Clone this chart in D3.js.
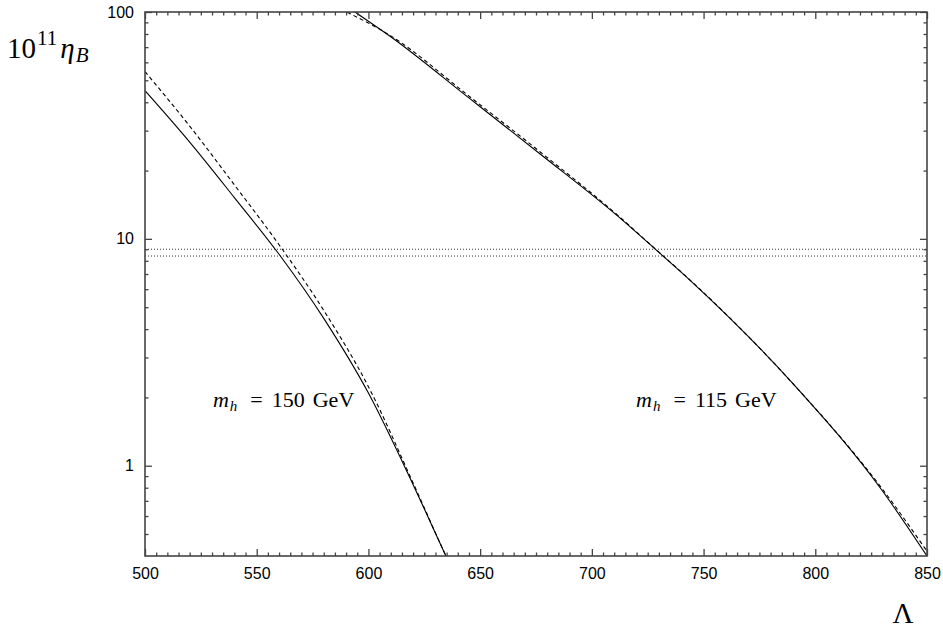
<!DOCTYPE html>
<html>
<head>
<meta charset="utf-8">
<script src="https://cdn.jsdelivr.net/npm/d3@7"></script>
<style>
  body { margin: 0; background: #fff; }
  svg { display: block; }
  .axis .tick text { font-family: "Liberation Sans", Arial, sans-serif; font-size: 16px; fill: #000; }
  .axis .tick line { stroke: #444; stroke-width: 1.3; }
  .serif { font-family: "Liberation Serif", "Times New Roman", serif; fill: #000; }
</style>
</head>
<body>
<svg id="chart" width="943" height="630"></svg>
<script>
// Baryon asymmetry 10^11 eta_B versus cut-off Lambda (GeV)
const lambda150 = [500, 520, 540, 560, 580, 600, 620, 634.7, 640];
const eta150Solid = [45.0, 26.7, 15.2, 8.55, 4.46, 2.09, 0.825, 0.40, 0.31];
const eta150Dashed = [54.6, 31.4, 17.3, 9.42, 4.84, 2.23, 0.84, 0.40, 0.31];

const lambda115Solid = [590, 594, 610, 645, 677, 712, 728, 743, 790, 830, 850];
const eta115Solid = [106.5, 100, 77.8, 41.8, 23.6, 12.5, 9.08, 6.70, 2.30, 0.776, 0.40];
const lambda115Dashed = [587.7, 590.3, 610, 645, 677, 712, 728, 743, 790, 830, 850];
const eta115Dashed = [103, 100, 78.5, 42.6, 24.1, 12.6, 9.1, 6.72, 2.30, 0.79, 0.42];

// observed band
const etaObserved = [8.4, 9.0];

const xTicks = [500, 550, 600, 650, 700, 750, 800, 850];
const yTicks = [1, 10, 100];
const yMinorTicks = [0.5, 0.6, 0.7, 0.8, 0.9, 2, 3, 4, 5, 6, 7, 8, 9, 20, 30, 40, 50, 60, 70, 80, 90];

const curveLabels = [
  { mass: "150", lambda: 530.4 },
  { mass: "115", lambda: 719.8 }
];

const svg = d3.select("#chart");
const plotLeft = 145, plotRight = 927, plotTop = 12, plotBottom = 556;

const x = d3.scaleLinear().domain([500, 850]).range([plotLeft, plotRight]);
const y = d3.scaleLog().domain([0.4, 100]).range([plotBottom, plotTop]);

const xMinorTicks = d3.range(500, 851, 5).filter(v => v % 50 !== 0);

svg.append("defs").append("clipPath").attr("id", "plot-clip")
  .append("rect").attr("x", plotLeft).attr("y", plotTop)
  .attr("width", plotRight - plotLeft).attr("height", plotBottom - plotTop);

// observed range as dotted horizontals
svg.append("g").selectAll("line").data(etaObserved).join("line")
  .attr("x1", plotLeft).attr("x2", plotRight)
  .attr("y1", d => y(d)).attr("y2", d => y(d))
  .attr("stroke", "#333").attr("stroke-width", 1)
  .attr("stroke-dasharray", "1,2");

// curves
const line = d3.line().x(d => x(d[0])).y(d => y(d[1])).curve(d3.curveMonotoneX);
const curves = [
  { pts: d3.zip(lambda150, eta150Solid), dash: null },
  { pts: d3.zip(lambda150, eta150Dashed), dash: "4,3" },
  { pts: d3.zip(lambda115Solid, eta115Solid), dash: null },
  { pts: d3.zip(lambda115Dashed, eta115Dashed), dash: "4,3" }
];
svg.append("g").attr("clip-path", "url(#plot-clip)")
  .selectAll("path").data(curves).join("path")
  .attr("d", d => line(d.pts))
  .attr("fill", "none").attr("stroke", "#000").attr("stroke-width", 1.1)
  .attr("stroke-dasharray", d => d.dash);

// axes with inward ticks
function styleAxis(g) {
  g.select(".domain").remove();
}
svg.append("g").attr("class", "axis").attr("transform", `translate(0,${plotBottom})`)
  .call(d3.axisBottom(x).tickValues(xMinorTicks).tickSize(-3.5).tickFormat("")).call(styleAxis);
svg.append("g").attr("class", "axis").attr("transform", `translate(0,${plotBottom})`)
  .call(d3.axisBottom(x).tickValues(xTicks).tickSize(-7).tickPadding(12).tickFormat(d3.format("d"))).call(styleAxis);
svg.append("g").attr("class", "axis").attr("transform", `translate(0,${plotTop})`)
  .call(d3.axisTop(x).tickValues(xMinorTicks).tickSize(-3.5).tickFormat("")).call(styleAxis);
svg.append("g").attr("class", "axis").attr("transform", `translate(0,${plotTop})`)
  .call(d3.axisTop(x).tickValues(xTicks).tickSize(-7).tickFormat("")).call(styleAxis);

svg.append("g").attr("class", "axis").attr("transform", `translate(${plotLeft},0)`)
  .call(d3.axisLeft(y).tickValues(yMinorTicks).tickSize(-3.5).tickFormat("")).call(styleAxis);
svg.append("g").attr("class", "axis").attr("transform", `translate(${plotLeft},0)`)
  .call(d3.axisLeft(y).tickValues(yTicks).tickSize(-7).tickPadding(11).tickFormat(d3.format("d"))).call(styleAxis);
svg.append("g").attr("class", "axis").attr("transform", `translate(${plotRight},0)`)
  .call(d3.axisRight(y).tickValues(yMinorTicks).tickSize(-3.5).tickFormat("")).call(styleAxis);
svg.append("g").attr("class", "axis").attr("transform", `translate(${plotRight},0)`)
  .call(d3.axisRight(y).tickValues(yTicks).tickSize(-7).tickFormat("")).call(styleAxis);

// frame
svg.append("rect").attr("x", plotLeft).attr("y", plotTop)
  .attr("width", plotRight - plotLeft).attr("height", plotBottom - plotTop)
  .attr("fill", "none").attr("stroke", "#444").attr("stroke-width", 1.6);

// axis titles
const yTitle = svg.append("text").attr("class", "serif").attr("x", 7).attr("y", 58)
  .style("font-size", "29px");
yTitle.append("tspan").text("10");
yTitle.append("tspan").attr("dy", -13).attr("dx", 1).style("font-size", "21px").text("11");
yTitle.append("tspan").attr("dy", 13).attr("dx", 3).style("font-style", "italic").text("η");
yTitle.append("tspan").attr("dy", 4).attr("dx", 1).style("font-size", "21px").style("font-style", "italic").text("B");

svg.append("text").attr("class", "serif").attr("x", 903).attr("y", 623)
  .attr("text-anchor", "middle").style("font-size", "29px").text("Λ");

// curve labels
const lab = svg.append("g").selectAll("text").data(curveLabels).join("text")
  .attr("class", "serif").attr("x", d => x(d.lambda)).attr("y", 407)
  .style("font-size", "22px");
lab.append("tspan").style("font-style", "italic").text("m");
lab.append("tspan").attr("dy", 4).attr("dx", 1).style("font-size", "15px").style("font-style", "italic").text("h");
lab.append("tspan").attr("dy", -4).attr("dx", 13).text("=");
lab.append("tspan").attr("dx", 9).text(d => d.mass);
lab.append("tspan").attr("dx", 8).text("GeV");
</script>
</body>
</html>
